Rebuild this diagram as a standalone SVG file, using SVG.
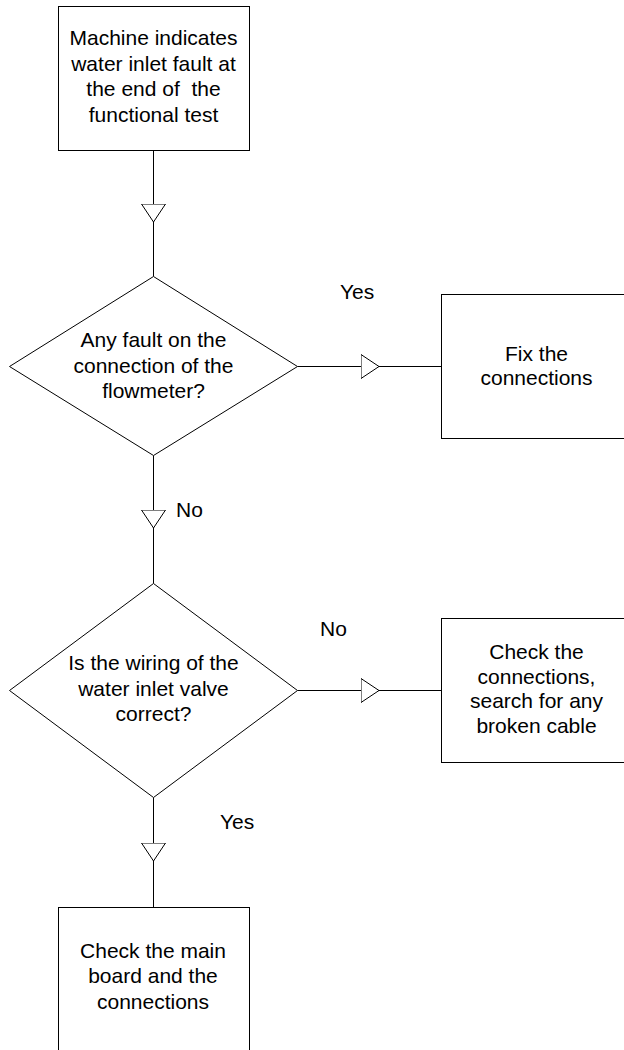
<svg xmlns="http://www.w3.org/2000/svg" width="624" height="1050" viewBox="0 0 624 1050">
<defs>
<style>
.s{fill:#fff;stroke:#000;stroke-width:1}
.c{fill:none;stroke:#000;stroke-width:1;marker-mid:url(#tri)}
text{font-family:"Liberation Sans",Arial,sans-serif;font-size:21px;fill:#000;white-space:pre}
.m{text-anchor:middle}
</style>
<marker id="tri" markerUnits="userSpaceOnUse" markerWidth="20" markerHeight="26" refX="18.5" refY="12.5" orient="auto" viewBox="0 0 20 26">
<path d="M0.5,0.5 L18.5,12.5 L0.5,24.5 Z" fill="#fff" stroke="#000" stroke-width="1"/>
</marker>
</defs>
<rect width="624" height="1050" fill="#fff"/>
<g id="connectors">
<path class="c" d="M153.5,150.5 L153.5,222 L153.5,276.5"/>
<path class="c" d="M153.5,455.5 L153.5,528 L153.5,583.5"/>
<path class="c" d="M153.5,797.5 L153.5,861 L153.5,907.5"/>
<path class="c" d="M297.5,366.5 L379,366.5 L441.5,366.5"/>
<path class="c" d="M297.5,690.5 L379,690.5 L441.5,690.5"/>
<text x="340" y="299">Yes</text>
<text x="176" y="517">No</text>
<text x="320" y="636">No</text>
<text x="220" y="829">Yes</text>
</g>
<g id="start">
<rect class="s" x="58.5" y="6.5" width="191" height="144"/>
<text class="m" x="153.5" y="45">Machine indicates</text>
<text class="m" x="153.5" y="70.7">water inlet fault at</text>
<text class="m" x="153.5" y="96.3">the end of  the</text>
<text class="m" x="153.5" y="122">functional test</text>
</g>
<g id="decision1">
<polygon class="s" points="153.5,276.5 297.5,366.5 153.5,455.5 9.5,366.5"/>
<text class="m" x="153.5" y="347">Any fault on the</text>
<text class="m" x="153.5" y="372.5">connection of the</text>
<text class="m" x="153.5" y="398">flowmeter?</text>
</g>
<g id="fix">
<rect class="s" x="441.5" y="294.5" width="192" height="144"/>
<text class="m" x="536.5" y="360.5">Fix the</text>
<text class="m" x="536.5" y="385">connections</text>
</g>
<g id="decision2">
<polygon class="s" points="153.5,583.5 297.5,690.5 153.5,797.5 9.5,690.5"/>
<text class="m" x="153.5" y="670">Is the wiring of the</text>
<text class="m" x="153.5" y="695.5">water inlet valve</text>
<text class="m" x="153.5" y="721">correct?</text>
</g>
<g id="check-cable">
<rect class="s" x="441.5" y="618.5" width="192" height="144"/>
<text class="m" x="536.5" y="659">Check the</text>
<text class="m" x="536.5" y="683.7">connections,</text>
<text class="m" x="536.5" y="708.4">search for any</text>
<text class="m" x="536.5" y="733">broken cable</text>
</g>
<g id="check-board">
<rect class="s" x="58.5" y="907.5" width="191" height="160"/>
<text class="m" x="153" y="958">Check the main</text>
<text class="m" x="153" y="983">board and the</text>
<text class="m" x="153" y="1009">connections</text>
</g>
</svg>
